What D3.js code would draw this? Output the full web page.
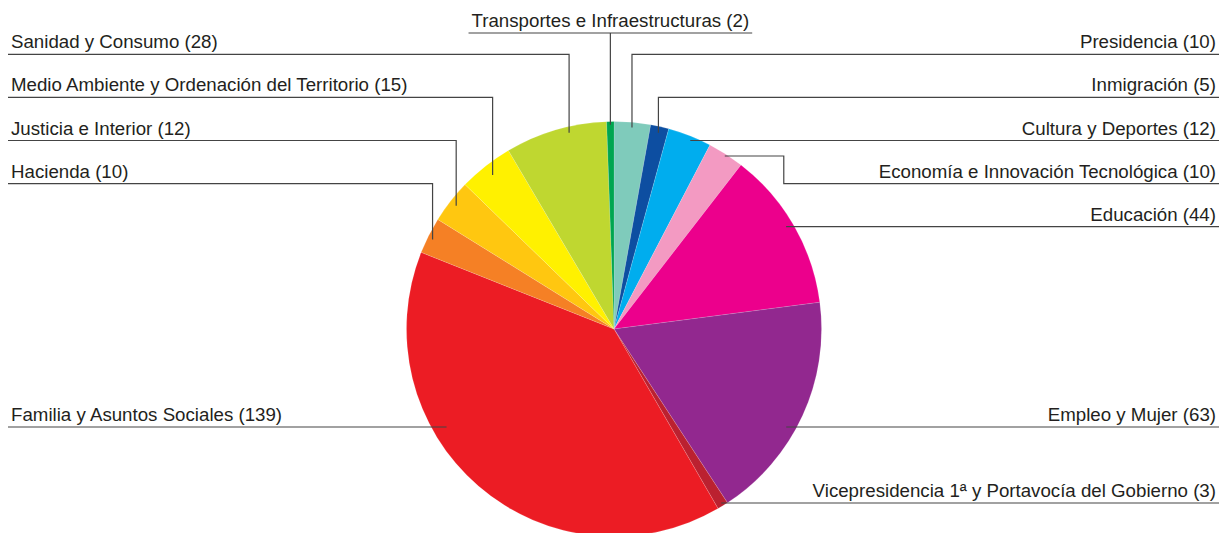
<!DOCTYPE html>
<html>
<head>
<meta charset="utf-8">
<script src="https://cdn.jsdelivr.net/npm/d3@7"></script>
<style>
  html, body { margin: 0; padding: 0; background: #fff; }
  svg { display: block; }
  .label { font-family: "Liberation Sans", Arial, sans-serif; font-size: 18.7px; fill: #231f20; }
  .leader { fill: none; stroke: #444; stroke-width: 1.2; }
</style>
</head>
<body>
<svg id="chart" width="1220" height="533"></svg>
<script>
// consejerias, clockwise from 12 o'clock
var names = ["Presidencia", "Inmigración", "Cultura y Deportes", "Economía e Innovación Tecnológica",
  "Educación", "Empleo y Mujer", "Vicepresidencia 1ª y Portavocía del Gobierno",
  "Familia y Asuntos Sociales", "Hacienda", "Justicia e Interior",
  "Medio Ambiente y Ordenación del Territorio", "Sanidad y Consumo", "Transportes e Infraestructuras"];
var values = [10, 5, 12, 10, 44, 63, 3, 139, 10, 12, 15, 28, 2];
var colors = ["#7fcbbb", "#0d4ea1", "#00adee", "#f39ac2", "#ec008c", "#92288f", "#bb2130",
  "#ec1c24", "#f58025", "#ffc710", "#fff100", "#bfd730", "#00a650"];

// label placement: side, row (0..4 regular rows, else own y), t = position in slice, k = radius fraction
var labelLayout = [
  {side: "right", row: 0, t: 0.5, k: 0.975},
  {side: "right", row: 1, t: 0.5, k: 0.97},
  {side: "right", row: 2, t: 0.5, k: 0.98, flat: true},
  {side: "right", row: 3, t: 0.5, k: 0.99, bend: 59},
  {side: "right", row: 4, t: 0.5, k: 0.965, flat: true},
  {side: "right", y: 427, t: 0.577, k: 0.955, flat: true},
  {side: "right", y: 503, t: 0.5, k: 0.985, flat: true},
  {side: "left", y: 427, t: 0.633, k: 0.935, flat: true},
  {side: "left", row: 3, t: 0.45, k: 0.975},
  {side: "left", row: 2, t: 0.5, k: 0.965},
  {side: "left", row: 1, t: 0.5, k: 0.945},
  {side: "left", row: 0, t: 0.62, k: 0.97},
  {side: "top", y: 33, t: 0.5, k: 0.985}
];

var svg = d3.select("#chart"),
    width = +svg.attr("width"),
    height = +svg.attr("height");

var cx = 614, cy = 329, radius = 207.5;
var rowY = function(i) { return 54.3 + i * 43.1; };

var pie = d3.pie().sort(null).value(function(d) { return d; });
var arcs = pie(values);

var arc = d3.arc().innerRadius(0).outerRadius(radius);

var g = svg.append("g").attr("transform", "translate(" + cx + "," + cy + ")");

g.selectAll("path.slice")
  .data(arcs)
  .enter().append("path")
    .attr("class", "slice")
    .attr("d", arc)
    .attr("fill", function(d, i) { return colors[i]; })
    .attr("stroke", "rgba(255,255,255,0.35)")
    .attr("stroke-width", 0.4);

function polar(a, r) {
  return [cx + Math.sin(a) * r, cy - Math.cos(a) * r];
}

arcs.forEach(function(d, i) {
  var lay = labelLayout[i];
  var text = names[i] + " (" + values[i] + ")";
  var y = lay.row != null ? rowY(lay.row) : lay.y;
  var a = d.startAngle + lay.t * (d.endAngle - d.startAngle);
  var p = polar(a, lay.k * radius);
  var pts;

  if (lay.side == "top") {
    var t = svg.append("text")
      .attr("class", "label")
      .attr("x", p[0]).attr("y", y - 6)
      .attr("text-anchor", "middle")
      .text(text);
    var w = t.node().getComputedTextLength();
    svg.append("path").attr("class", "leader")
      .attr("d", "M" + (p[0] - w / 2 - 3) + "," + y + "H" + (p[0] + w / 2 + 3) +
        "M" + p[0] + "," + y + "V" + p[1]);
    return;
  }

  if (lay.side == "left") {
    svg.append("text")
      .attr("class", "label")
      .attr("x", 11).attr("y", y - 6)
      .text(text);
    if (lay.flat) {
      // horizontal leader meeting the slice at the row height
      var dx = Math.sqrt(Math.pow(lay.k * radius, 2) - Math.pow(y - cy, 2));
      pts = [[8, y], [cx - dx, y]];
    } else {
      pts = [[8, y], [p[0], y], [p[0], p[1]]];
    }
  } else {
    svg.append("text")
      .attr("class", "label")
      .attr("x", 1216).attr("y", y - 6)
      .attr("text-anchor", "end")
      .text(text);
    if (lay.flat) {
      var dx2 = Math.sqrt(Math.pow(lay.k * radius, 2) - Math.pow(y - cy, 2));
      pts = [[1219, y], [cx + dx2, y]];
    } else if (lay.bend) {
      pts = [[1219, y], [p[0] + lay.bend, y], [p[0] + lay.bend, p[1]], [p[0], p[1]]];
    } else {
      pts = [[1219, y], [p[0], y], [p[0], p[1]]];
    }
  }

  svg.append("path").attr("class", "leader")
    .attr("d", d3.line()(pts));
});
</script>
</body>
</html>
